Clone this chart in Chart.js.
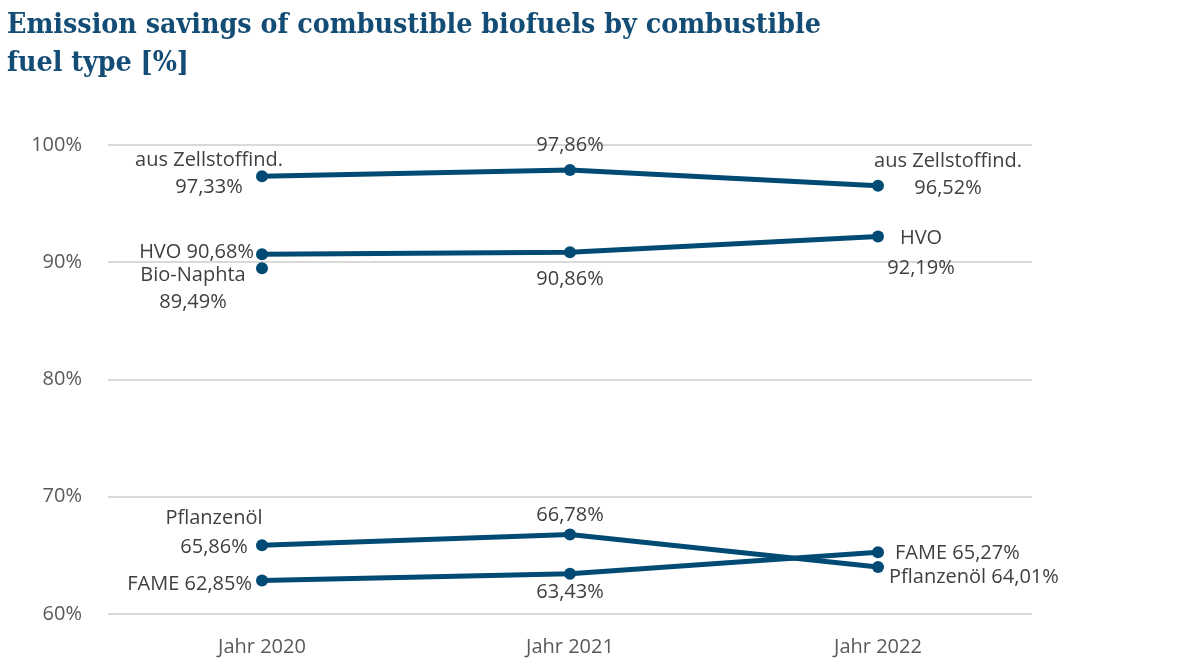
<!DOCTYPE html>
<html>
<head>
<meta charset="utf-8">
<script src="https://cdn.jsdelivr.net/npm/chart.js@4"></script>
<style>
  html, body { margin: 0; padding: 0; background: #fff; }
  #wrap { position: relative; width: 1183px; height: 659px; }
  #title {
    position: absolute; left: 7px; top: 4px; margin: 0;
    font-family: "DejaVu Serif", "Liberation Serif", serif;
    font-stretch: condensed;
    font-weight: bold; font-size: 28.3px; line-height: 38px;
    color: #134d75;
  }
  canvas { position: absolute; left: 0; top: 0; }
</style>
</head>
<body>
<div id="wrap">
  <canvas id="myChart" width="1183" height="659"></canvas>
  <h1 id="title">Emission savings of combustible biofuels by combustible<br>fuel type [%]</h1>
</div>
<script>
// data
var years = ['Jahr 2020', 'Jahr 2021', 'Jahr 2022'];
var zellstoff = [97.33, 97.86, 96.52];
var hvo = [90.68, 90.86, 92.19];
var bioNaphta = [89.49, null, null];
var pflanzenoel = [65.86, 66.78, 64.01];
var fame = [62.85, 63.43, 65.27];
var yTicks = [60, 70, 80, 90, 100];

var blue = '#004a73';
var fontFamily = '"Open Sans", "Noto Sans", sans-serif';

// label placement per point: x/y offset from the point, alignment, how the name is shown
// name: 'none' | 'inline' | 'above' (name on first line, value below)
var labelPos = {
  'aus Zellstoffind.': [
    { dx: -53, dy: -16, align: 'center', name: 'above', gap: 27 },
    { dx: 0, dy: -25, align: 'center', name: 'none' },
    { dx: 70, dy: -25, align: 'center', name: 'above', gap: 27 }
  ],
  'HVO': [
    { dx: -8, dy: -2, align: 'right', name: 'inline' },
    { dx: 0, dy: 27, align: 'center', name: 'none' },
    { dx: 43, dy: 2, align: 'center', name: 'above', gap: 30 }
  ],
  'Bio-Naphta': [
    { dx: -69, dy: 7, align: 'center', name: 'above', gap: 27 },
    null, null
  ],
  'Pflanzenöl': [
    { dx: -48, dy: -27, align: 'center', name: 'above', gap: 29 },
    { dx: 0, dy: -19, align: 'center', name: 'none' },
    { dx: 11, dy: 10, align: 'left', name: 'inline' }
  ],
  'FAME': [
    { dx: -10, dy: 4, align: 'right', name: 'inline' },
    { dx: 0, dy: 19, align: 'center', name: 'none' },
    { dx: 17, dy: 1, align: 'left', name: 'inline' }
  ]
};

function fmt(v) {
  return v.toFixed(2).replace('.', ',') + '%';
}

var pointLabels = {
  id: 'pointLabels',
  afterDatasetsDraw: function(chart) {
    var ctx = chart.ctx;
    ctx.save();
    ctx.font = '20px ' + fontFamily;
    ctx.fillStyle = '#404040';
    ctx.textBaseline = 'middle';
    chart.data.datasets.forEach(function(ds, i) {
      var meta = chart.getDatasetMeta(i);
      meta.data.forEach(function(pt, j) {
        var v = ds.data[j];
        var p = labelPos[ds.label][j];
        if (v === null || !p) return;
        var x = pt.x + p.dx, y = pt.y + p.dy;
        ctx.textAlign = p.align;
        if (p.name === 'none') {
          ctx.fillText(fmt(v), x, y);
        } else if (p.name === 'inline') {
          ctx.fillText(ds.label + ' ' + fmt(v), x, y);
        } else {
          ctx.fillText(ds.label, x, y);
          ctx.fillText(fmt(v), x, y + p.gap);
        }
      });
    });
    ctx.restore();
  }
};

function series(label, data) {
  return {
    label: label,
    data: data,
    borderColor: blue,
    backgroundColor: blue,
    borderWidth: 5,
    pointRadius: 6,
    pointHoverRadius: 6,
    pointBackgroundColor: blue,
    pointBorderWidth: 0,
    tension: 0,
    spanGaps: false
  };
}

var ctx = document.getElementById('myChart').getContext('2d');
var chart = new Chart(ctx, {
  type: 'line',
  data: {
    labels: years,
    datasets: [
      series('aus Zellstoffind.', zellstoff),
      series('HVO', hvo),
      series('Bio-Naphta', bioNaphta),
      series('Pflanzenöl', pflanzenoel),
      series('FAME', fame)
    ]
  },
  options: {
    responsive: false,
    animation: false,
    layout: { padding: { top: 145, right: 151, bottom: 0, left: 0 } },
    plugins: {
      legend: { display: false },
      tooltip: { enabled: false }
    },
    scales: {
      x: {
        offset: true,
        grid: { display: false },
        border: { display: false },
        ticks: {
          padding: 13,
          color: '#595959',
          font: { family: fontFamily, size: 20 }
        },
        afterFit: function(scale) { scale.height = 45; }
      },
      y: {
        min: 60,
        max: 100,
        afterBuildTicks: function(scale) {
          scale.ticks = yTicks.map(function(v) { return { value: v }; });
        },
        grid: { color: '#d9d9d9', lineWidth: 2, drawTicks: false },
        border: { display: false },
        ticks: {
          padding: 26,
          color: '#595959',
          font: { family: fontFamily, size: 20 },
          callback: function(v) { return v + '%'; }
        },
        afterFit: function(scale) { scale.width = 108; }
      }
    }
  },
  plugins: [pointLabels]
});
</script>
</body>
</html>
